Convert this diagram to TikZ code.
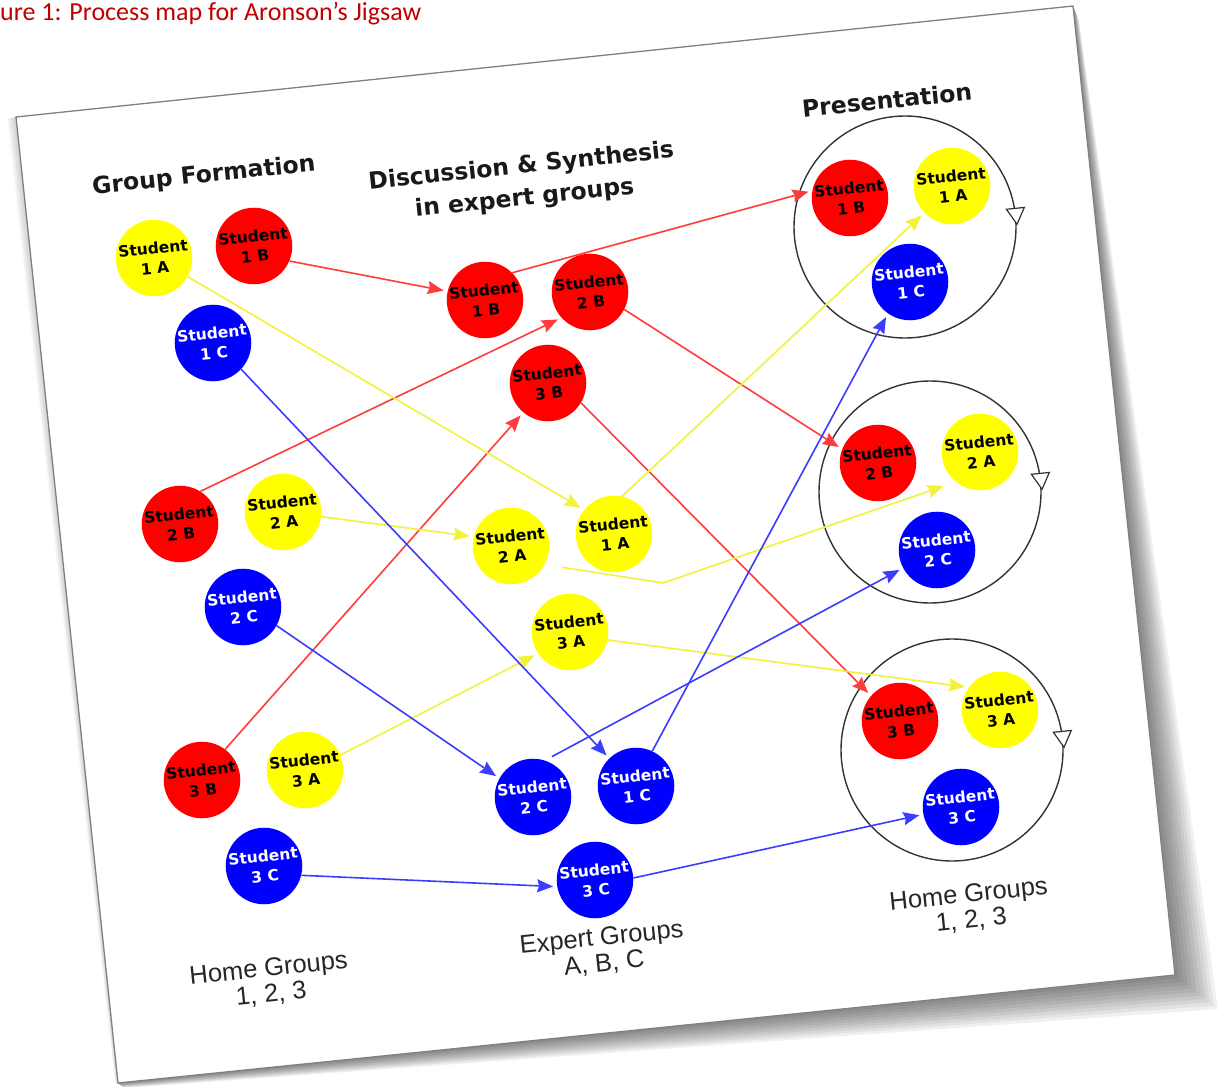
\documentclass[tikz,border=0pt]{standalone}
\usepackage{fontspec}
\setmainfont{Liberation Sans}
\newfontfamily\capfont{Carlito}
\newfontfamily\hdfont{DejaVu Sans}
\usetikzlibrary{arrows.meta}
\definecolor{capred}{HTML}{C00000}
\definecolor{stured}{HTML}{FF0000}
\definecolor{stuyel}{HTML}{FFFF00}
\definecolor{stublu}{HTML}{0000FF}
\definecolor{ared}{HTML}{FF3C3C}
\definecolor{ayel}{HTML}{F2F23A}
\definecolor{ablu}{HTML}{3C3CFF}
\tikzset{
  stu/.style={circle, minimum size=76pt, inner sep=0pt, rotate=6, align=center,
    font=\hdfont\bfseries\fontsize{15.5}{20}\selectfont},
  rd/.style={stu, fill=stured, text=black},
  yl/.style={stu, fill=stuyel, text=black},
  bl/.style={stu, fill=stublu, text=white},
  head/.style={rotate=6, align=center, inner sep=0pt, font=\hdfont\bfseries\fontsize{23.5}{32}\selectfont, text=black!90},
  grp/.style={rotate=6, align=center, inner sep=0pt, font=\fontsize{25.5}{26}\selectfont, text=black!85},
  bigc/.style={circle, draw=black!80, line width=1.4pt, minimum size=222pt, inner sep=0pt, rotate=6},
  tri/.style={draw=black!80, fill=white, line width=1.2pt, line join=miter},
  arr/.style={line width=1.6pt, -{Stealth[length=16pt,width=13pt,inset=2pt]}, shorten >=4pt},
}
\begin{document}
\begin{tikzpicture}[x=1pt,y=-1pt]
\useasboundingbox (0,0) rectangle (1225,1086);
% shadow
\foreach \i in {1,...,10}{
  \fill[black,opacity=0.06] (1073,6) -- (1073+0.6*\i,6+1.5*\i) -- (1175+4.3*\i,975+3.4*\i)
     -- (118+0.6*\i,1083+0.5*\i) -- (118,1083) -- (1175,975) -- cycle;
  \fill[black,opacity=0.02] (16,117) -- (16-0.9*\i,117+0.2*\i) -- (118-0.3*\i,1083) -- (118,1083) -- cycle;
}
% sheet
\filldraw[fill=white, draw=black!50, line width=1.3pt, line join=miter]
  (16,117) -- (1073,6) -- (1175,975) -- (118,1083) -- cycle;
% caption
\node[anchor=base west, inner sep=0pt, text=capred, font=\capfont\fontsize{26}{28}\selectfont] (cap) at (0,21) {ure 1: Process map for Aronson’s Jigsaw};
% headings
\node[head] (hGF) at (204,176) {Group Formation};
\node[head] (hDS) at (523,183) {Discussion \& Synthesis\\in expert groups};
\node[head] (hPR) at (887,100) {Presentation};
\node[grp] (gH1) at (270,982) {Home Groups\\1, 2, 3};
\node[grp] (gEX) at (603,951) {Expert Groups\\A, B, C};
\node[grp] (gH2) at (970,908) {Home Groups\\1, 2, 3};
% big circles
\node[bigc] (big1) at (905,227) {};
\node[bigc] (big2) at (930,492) {};
\node[bigc] (big3) at (952,750) {};
\foreach \b in {big1,big2,big3}{
  \begin{scope}[shift={(\b.east)}, rotate=6]
    \draw[tri] (-9,-7) -- (9,-7) -- (0,9) -- cycle;
  \end{scope}
}
% left column
\node[yl] (S1A) at (154,258) {Student\\1 A};
\node[rd] (S1B) at (254,246) {Student\\1 B};
\node[bl] (S1C) at (213,343) {Student\\1 C};
\node[rd] (S2B) at (180,524) {Student\\2 B};
\node[yl] (S2A) at (283,512) {Student\\2 A};
\node[bl] (S2C) at (243,607) {Student\\2 C};
\node[rd] (S3B) at (202,780) {Student\\3 B};
\node[yl] (S3A) at (305,770) {Student\\3 A};
\node[bl] (S3C) at (264,866) {Student\\3 C};
% middle column
\node[rd] (M1B) at (485,300) {Student\\1 B};
\node[rd] (M2B) at (590,292) {Student\\2 B};
\node[rd] (M3B) at (548,383) {Student\\3 B};
\node[yl] (M2A) at (511,546) {Student\\2 A};
\node[yl] (M1A) at (614,534) {Student\\1 A};
\node[yl] (M3A) at (570,632) {Student\\3 A};
\node[bl] (M2C) at (533,797) {Student\\2 C};
\node[bl] (M1C) at (636,786) {Student\\1 C};
\node[bl] (M3C) at (595,880) {Student\\3 C};
% right column
\node[rd] (R1B) at (850,198) {Student\\1 B};
\node[yl] (R1A) at (952,186) {Student\\1 A};
\node[bl] (R1C) at (910,282) {Student\\1 C};
\node[rd] (R2B) at (878,463) {Student\\2 B};
\node[yl] (R2A) at (980,452) {Student\\2 A};
\node[bl] (R2C) at (937,550) {Student\\2 C};
\node[rd] (R3B) at (900,721) {Student\\3 B};
\node[yl] (R3A) at (1000,710) {Student\\3 A};
\node[bl] (R3C) at (961,807) {Student\\3 C};
\coordinate (bendA) at (663,583);
% red arrows
\draw[arr, ared] (S1B.-29) -- (M1B.161);
\draw[arr, ared] (M1B.39) -- (R1B.163);
\draw[arr, ared] (S2B.52) -- (M2B.216);
\draw[arr, ared] (M2B.-33) -- (R2B.153);
\draw[arr, ared] (S3B.47) -- (M3B.-136);
\draw[arr, ared] (M3B.-37) -- (R3B.133);
% yellow arrows
\draw[arr, ayel] (S1A.-35) -- (M1A.135);
\draw[arr, ayel] (M1A.72) -- (R1A.-142);
\draw[arr, ayel] (S2A.-13) -- (M2A.160);
\draw[arr, ayel, shorten <=18pt, shorten >=13pt] (M2A.-35) -- (bendA) -- (R2A.-135);
\draw[arr, ayel] (S3A.17) -- (M3A.-152);
\draw[arr, ayel] (M3A.-18) -- (R3A.138);
% blue arrows
\draw[arr, ablu] (S1C.-49) -- (M1C.128);
\draw[arr, ablu] (M1C.59) -- (R1C.-131);
\draw[arr, ablu] (S2C.-35) -- (M2C.145);
\draw[arr, ablu, shorten <=8pt] (M2C.66) -- (R2C.-158);
\draw[arr, ablu] (S3C.-20) -- (M3C.184);
\draw[arr, ablu] (M3C.-3) -- (R3C.185);
\end{tikzpicture}
\end{document}
